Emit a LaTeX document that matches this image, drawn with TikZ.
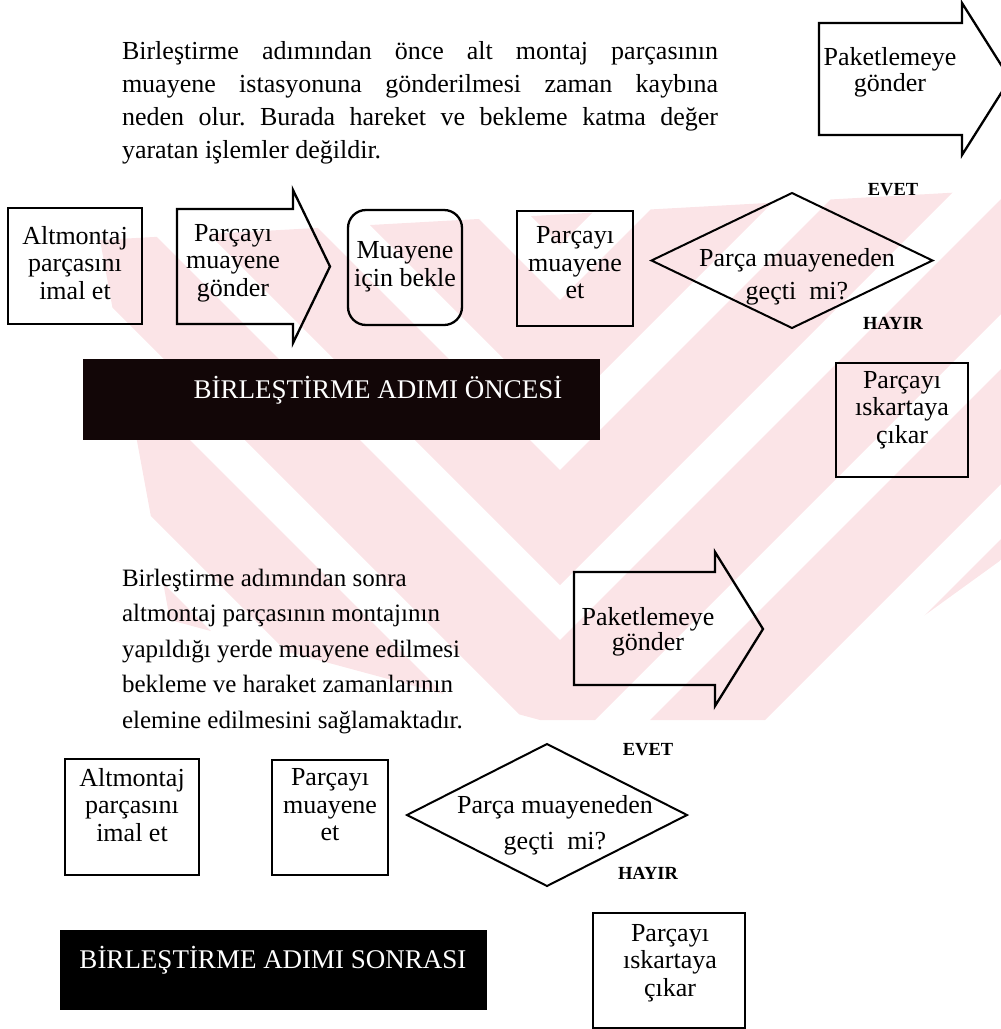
\documentclass[tikz,border=0pt]{standalone}
\usepackage{fontspec}
\setmainfont{Liberation Serif}
\usetikzlibrary{shapes.geometric}
\frenchspacing
\definecolor{wmpink}{RGB}{251,228,231}
\begin{document}
\begin{tikzpicture}[x=1pt,y=-1pt,
  every node/.style={inner sep=0pt,outer sep=0pt},
  frame/.style={draw,line width=2.3pt},
  roundframe/.style={frame,rounded corners=18pt},
  decision/.style={diamond,draw,line width=2pt},
  arrowshape/.style={draw,line width=2.3pt,line join=miter},
  txt/.style={font=\fontsize{26}{27.5}\selectfont,align=center},
  arrowtxt/.style={font=\fontsize{26}{25.5}\selectfont,align=center},
  qtxt/.style={align=center},
  yesno/.style={font=\fontsize{18.5}{20}\selectfont\bfseries},
  banner/.style={fill=black,draw=none},
  bannertxt/.style={text=white,font=\fontsize{27}{28}\selectfont},
  wm/.style={fill=wmpink,draw=none}]
\clip (0,0) rectangle (1001,1029);
\useasboundingbox (0,0) rectangle (1001,1029);

% faint striped stamp behind the page
\begin{scope}
  \clip (100,240) -- (1001,190) -- (1001,560) -- (780,720) -- (540,720)
    -- (170,620) -- cycle;
  \foreach \v in {130,300,...,1400} {
    \fill[wm] (560,\v) -- (-440,\v-1000) -- (-440,\v-885) -- (560,\v+115)
      -- (1560,\v-885) -- (1560,\v-1000) -- cycle;
  }
\end{scope}

% ---------- before the assembly step ----------
\node[anchor=north west,text width=596pt,align=justify,
      font=\fontsize{26}{33}\selectfont] (note1) at (122,41)
  {Birleştirme adımından önce alt montaj parçasının\linebreak
   muayene istasyonuna gönderilmesi zaman kaybına\linebreak
   neden olur. Burada hareket ve bekleme katma değer\linebreak
   yaratan işlemler değildir.};

% ship to packing
\draw[arrowshape] (819,23) -- (962,23) -- (962,3) -- (1010,79)
  -- (962,155) -- (962,135) -- (819,135) -- cycle;
\node[arrowtxt] (pack1) at (890,72.5) {Paketlemeye\\gönder};

% process row
\node[frame,minimum width=134pt,minimum height=116pt] (make1) at (75,266) {};
\node[txt] (make1t) at (75,263) {Altmontaj\\parçasını\\imal et};

\draw[arrowshape] (177,209) -- (293,209) -- (293,190) -- (330,266.5)
  -- (293,343) -- (293,324) -- (177,324) -- cycle;
\node[txt] (send1) at (233,263) {Parçayı\\muayene\\gönder};

\node[roundframe,minimum width=114pt,minimum height=115pt] (wait1) at (405,267.5) {};
\node[txt] (wait1t) at (405,266.5) {Muayene\\için bekle};

\node[frame,minimum width=116pt,minimum height=115pt] (insp1) at (575,268.5) {};
\node[txt] (insp1t) at (575,263) {Parçayı\\muayene\\et};

\node[decision,minimum width=281pt,minimum height=135pt] (dec1) at (792,260.5) {};
\node[qtxt,font=\fontsize{26}{33}\selectfont] (dec1t) at (797,276.5)
  {Parça muayeneden\\geçti~~mi?};
\node[yesno] (yes1) at (893,190) {EVET};
\node[yesno] (no1) at (893,323) {HAYIR};

\node[frame,minimum width=132pt,minimum height=114pt] (scrap1) at (902,420) {};
\node[txt] (scrap1t) at (902,410) {Parçayı\\ıskartaya\\çıkar};

\fill[banner,fill={rgb,255:red,18;green,6;blue,7}] (83,359) rectangle (600,440);
\node[bannertxt] (title1) at (378,390) {BİRLEŞTİRME ADIMI ÖNCESİ};

% ---------- after the assembly step ----------
\node[anchor=north west,align=left,
      font=\fontsize{25}{35.5}\selectfont] (note2) at (122,569)
  {Birleştirme adımından sonra\\
   altmontaj parçasının montajının\\
   yapıldığı yerde muayene edilmesi\\
   bekleme ve haraket zamanlarının\\
   elemine edilmesini sağlamaktadır.};

\draw[arrowshape] (574,572) -- (715,572) -- (715,552) -- (763,629)
  -- (715,706) -- (715,685) -- (574,685) -- cycle;
\node[arrowtxt] (pack2) at (648,632) {Paketlemeye\\gönder};

\node[frame,minimum width=134pt,minimum height=116pt] (make2) at (132,817) {};
\node[txt] (make2t) at (132,805) {Altmontaj\\parçasını\\imal et};

\node[frame,minimum width=116pt,minimum height=115pt] (insp2) at (330,817.5) {};
\node[txt] (insp2t) at (330,805) {Parçayı\\muayene\\et};

\node[decision,minimum width=280pt,minimum height=142pt] (dec2) at (547,815) {};
\node[qtxt,font=\fontsize{26}{36}\selectfont] (dec2t) at (555,825)
  {Parça muayeneden\\geçti~~mi?};
\node[yesno] (yes2) at (648,750) {EVET};
\node[yesno] (no2) at (648,873) {HAYIR};

\node[frame,minimum width=152pt,minimum height=115pt] (scrap2) at (669,970.5) {};
\node[txt] (scrap2t) at (670,963) {Parçayı\\ıskartaya\\çıkar};

\fill[banner] (60,930) rectangle (487,1010);
\node[bannertxt] (title2) at (273,960) {BİRLEŞTİRME ADIMI SONRASI};
\end{tikzpicture}
\end{document}
